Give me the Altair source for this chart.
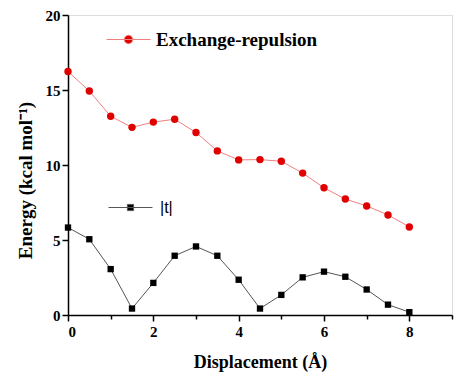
import altair as alt
import pandas as pd

disp = [0, 0.5, 1, 1.5, 2, 2.5, 3, 3.5, 4, 4.5, 5, 5.5, 6, 6.5, 7, 7.5, 8]
exch = [16.23, 14.93, 13.25, 12.51, 12.86, 13.05, 12.17, 10.94, 10.34, 10.36,
        10.25, 9.46, 8.48, 7.73, 7.27, 6.67, 5.87]
tabs = [5.83, 5.05, 3.06, 0.43, 2.14, 3.95, 4.57, 3.95, 2.35, 0.43,
        1.34, 2.51, 2.89, 2.55, 1.70, 0.69, 0.19]
x_ticks = [0, 1, 2, 3, 4, 5, 6, 7, 8, 9]
y_ticks = [0, 2.5, 5, 7.5, 10, 12.5, 15, 17.5, 20]

df1 = pd.DataFrame({"x": disp, "y": exch, "s": "Exchange-repulsion"})
df2 = pd.DataFrame({"x": disp, "y": tabs, "s": "|t|"})

SERIF = "Liberation Serif"

xenc = alt.X("x:Q", scale=alt.Scale(domain=[0, 9], nice=False),
             axis=alt.Axis(values=x_ticks, title="Displacement (Å)",
                           labelExpr="datum.value % 2 == 0 && datum.value < 9 ? datum.label : ''",
                           tickSize={"condition": {"test": "datum.value % 2 != 0", "value": 4}, "value": 6},
                           grid=False, domainColor="black", domainWidth=1.5,
                           tickColor="black", tickWidth=1.5, labelFont=SERIF,
                           labelFontWeight="bold", labelFontSize=15, labelColor="black",
                           labelPadding=3, titleFont=SERIF, titleFontWeight="bold",
                           titleFontSize=18, titleColor="black", titlePadding=14))
yenc = alt.Y("y:Q", scale=alt.Scale(domain=[0, 20], nice=False),
             axis=alt.Axis(values=y_ticks, title="Energy (kcal mol⁻¹)",
                           labelExpr="datum.value % 5 == 0 ? datum.label : ''",
                           tickSize={"condition": {"test": "datum.value % 5 != 0", "value": 4}, "value": 6},
                           grid=False, domainColor="black", domainWidth=1.5,
                           tickColor="black", tickWidth=1.5, labelFont=SERIF,
                           labelFontWeight="bold", labelFontSize=15, labelColor="black",
                           labelPadding=2, titleFont=SERIF, titleFontWeight="bold",
                           titleFontSize=19, titleColor="black", titlePadding=10,
                           titleY=165))

line1 = alt.Chart(df1).mark_line(color="#f08080", strokeWidth=1).encode(x=xenc, y=yenc)
pts1 = alt.Chart(df1).mark_point(filled=True, shape="circle", size=55, opacity=1).encode(
    x="x:Q", y="y:Q",
    color=alt.Color("s:N", scale=alt.Scale(domain=["Exchange-repulsion"], range=["#e00000"]),
                    legend=alt.Legend(title=None, orient="none", legendX=38, legendY=2,
                                      symbolType="M-1,0H1M-0.19,0A0.19,0.19 0 1,0 0.19,0A0.19,0.19 0 1,0 -0.19,0",
                                      symbolSize=1936, symbolFillColor="#e00000",
                                      symbolStrokeColor="#f08080", symbolStrokeWidth=1,
                                      labelFont=SERIF, labelFontWeight="bold", labelFontSize=19,
                                      labelLimit=400,
                                      labelColor="black", labelOffset=5, padding=0)))
line2 = alt.Chart(df2).mark_line(color="#555555", strokeWidth=1).encode(x="x:Q", y="y:Q")
pts2 = alt.Chart(df2).mark_point(filled=True, shape="square", size=40, opacity=1).encode(
    x="x:Q", y="y:Q",
    color=alt.Color("s:N", scale=alt.Scale(domain=["|t|"], range=["black"]),
                    legend=alt.Legend(title=None, orient="none", legendX=40, legendY=170,
                                      symbolType="M-1,0H1M-0.14,-0.14H0.14V0.14H-0.14Z",
                                      symbolSize=1936, symbolFillColor="black",
                                      symbolStrokeColor="#555555", symbolStrokeWidth=1,
                                      labelFont="Liberation Sans", labelFontWeight="normal",
                                      labelFontSize=16, labelColor="black", labelOffset=7,
                                      labelLimit=400, padding=0)))

chart = alt.layer(line1, pts1, line2, pts2).resolve_scale(color="independent").properties(
    width=384, height=300,
    autosize=alt.AutoSizeParams(type="none"),
    padding={"left": 60, "top": 7, "right": 7, "bottom": 62},
).configure_view(stroke=None).configure_axis(
    labelFont=SERIF, labelFontWeight="bold"
).configure(background="white")

chart.save("out.html", embed_options={"renderer": "svg", "actions": False})
